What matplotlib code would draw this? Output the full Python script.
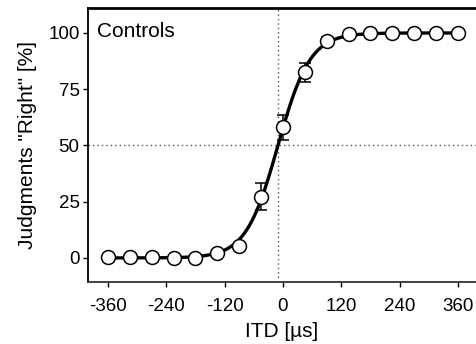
import numpy as np
import matplotlib
matplotlib.use("Agg")
import matplotlib.pyplot as plt

plt.rcParams['font.family'] = ['Liberation Sans', 'DejaVu Sans']

itd = [-360, -315, -270, -225, -180, -135, -90, -45, 0, 45, 90, 135, 180, 225, 270, 315, 360]
right_pct = [0.3, 0.2, 0.2, 0.0, 0.0, 2.0, 5.3, 27.2, 58.0, 82.5, 96.5, 99.7, 100.0, 99.8, 100.0, 100.0, 100.0]
sem = [0.3, 0.3, 0.3, 0.3, 0.3, 0.8, 1.5, 6.0, 5.6, 4.2, 1.5, 0.5, 0.3, 0.3, 0.3, 0.3, 0.3]

# logistic fit parameters (PSE and slope, µs)
pse = -10.3
slope = 33.0

xticks = [-360, -240, -120, 0, 120, 240, 360]
yticks = [0, 25, 50, 75, 100]

fig = plt.figure(figsize=(4.76, 3.44), dpi=100)
ax = fig.add_axes([88/476, (344-282)/344, 1 - 88/476, (282-8)/344])

ax.axhline(50, color='#555555', lw=1.0, ls=(0, (1, 2.2)), zorder=1)
ax.axvline(pse, color='#555555', lw=1.0, ls=(0, (1, 2.2)), zorder=1)

xs = np.linspace(-360, 360, 600)
ax.plot(xs, 100 / (1 + np.exp(-(xs - pse) / slope)), color='black', lw=2.4, zorder=2)

ax.errorbar(itd, right_pct, yerr=sem, fmt='o', ms=10, mfc='white', mec='black', mew=1.1,
            ecolor='black', elinewidth=1.1, capsize=4, capthick=1.1, zorder=3)

ax.set_xlim(-401, 397)
ax.set_ylim(-10.7, 111.1)
ax.set_xticks(xticks)
ax.set_xticklabels([str(t) for t in xticks])
ax.set_yticks(yticks)
ax.tick_params(direction='out', length=3.5, width=1.0, labelsize=13.5, pad=2.5)
ax.tick_params(axis='x', pad=8)

ax.spines['right'].set_visible(False)
ax.spines['top'].set_linewidth(2.0)
ax.spines['left'].set_linewidth(1.3)
ax.spines['bottom'].set_linewidth(1.3)
ax.spines['bottom'].set_color('#333333')

ax.set_xlabel('ITD [µs]', fontsize=15, labelpad=5)
ax.set_ylabel('Judgments "Right" [%]', fontsize=15, labelpad=8)
ax.text(0.022, 0.948, 'Controls', transform=ax.transAxes, fontsize=15, va='top', ha='left')

fig.savefig('out.png', dpi=100)
